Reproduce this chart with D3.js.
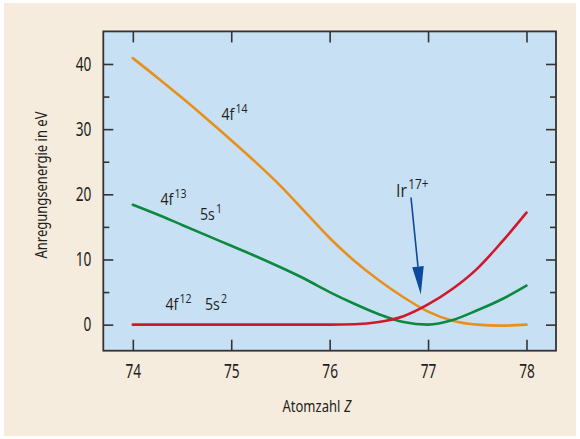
<!DOCTYPE html>
<html>
<head>
<meta charset="utf-8">
<script src="https://cdn.jsdelivr.net/npm/d3@7"></script>
<style>
  html, body { margin: 0; padding: 0; background: #ffffff; }
  svg { display: block; }
  text { font-family: "Noto Sans", "Open Sans", sans-serif; fill: #231f20; }
</style>
</head>
<body>
<svg id="chart"></svg>
<script>
// Datos
const Z_VALUES = [74, 74.25, 74.5, 74.75, 75, 75.25, 75.5, 75.75, 76, 76.25, 76.5, 76.75, 77, 77.25, 77.5, 77.75, 78];

const E_4F14 = [40.9, 37.9, 34.8, 31.6, 28.3, 24.9, 21.3, 17.3, 13.3, 9.8, 6.8, 4.2, 2.0, 0.6, 0.0, -0.15, 0.0];
const E_4F13_5S1 = [18.4, 16.9, 15.3, 13.7, 12.1, 10.5, 8.8, 7.0, 5.0, 3.2, 1.6, 0.4, 0.0, 0.7, 2.2, 3.9, 6.0];
const E_4F12_5S2 = [0, 0, 0, 0, 0, 0, 0, 0, 0, 0.05, 0.4, 1.3, 3.1, 5.5, 8.6, 12.7, 17.2];

const X_TICKS = [74, 75, 76, 77, 78];
const Y_TICKS = [0, 10, 20, 30, 40];
const Y_MINOR = [5, 15, 25, 35];

const X_DOMAIN = [73.7, 78.3];
const Y_DOMAIN = [-4, 45];

// Configuracion
const WIDTH = 580;
const HEIGHT = 439;
const PLOT = { left: 103.3, right: 556, top: 31.4, bottom: 350.7 };

const svg = d3.select('svg#chart')
              .attr('width', WIDTH)
              .attr('height', HEIGHT);

// comprime el texto a lo ancho (la fuente original es condensada)
const condensar = (sel, k) => {
    sel.each(function () {
        const largo = this.getComputedTextLength();
        d3.select(this)
            .attr('textLength', largo * k)
            .attr('lengthAdjust', 'spacingAndGlyphs');
    });
};

// texto condensado con transform (devuelve el ancho final)
const textoAngosto = (px, py, contenido, size, k, estilo = {}) => {
    const g = svg.append('g')
        .attr('transform', `translate(${px}, ${py}) scale(${k}, 1)`);
    const t = g.append('text')
        .attr('x', 0).attr('y', 0)
        .style('font-size', `${size}px`)
        .text(contenido);
    Object.entries(estilo).forEach(([key, val]) => t.style(key, val));
    return t.node().getComputedTextLength() * k;
};

// fondo beige
svg.append('rect')
    .attr('x', 4).attr('y', 3)
    .attr('width', WIDTH - 8).attr('height', HEIGHT - 6)
    .attr('fill', '#f6ecde');

const x = d3.scaleLinear().domain(X_DOMAIN).range([PLOT.left, PLOT.right]);
const y = d3.scaleLinear().domain(Y_DOMAIN).range([PLOT.bottom, PLOT.top]);

// area del grafico
svg.append('rect')
    .attr('x', PLOT.left).attr('y', PLOT.top)
    .attr('width', PLOT.right - PLOT.left)
    .attr('height', PLOT.bottom - PLOT.top)
    .attr('fill', '#c8e0f3');

// Curvas
const series = [
    { name: '4f14', values: E_4F14, color: '#e8901c' },
    { name: '4f13 5s1', values: E_4F13_5S1, color: '#0b8a3e' },
    { name: '4f12 5s2', values: E_4F12_5S2, color: '#d1182a' }
];

const linea = d3.line()
                .x((d, i) => x(Z_VALUES[i]))
                .y(d => y(d))
                .curve(d3.curveMonotoneX);

svg.append('g')
    .selectAll('path.curva')
    .data(series)
    .join('path')
        .attr('class', 'curva')
        .attr('d', d => linea(d.values))
        .attr('fill', 'none')
        .attr('stroke', d => d.color)
        .attr('stroke-width', 2.6)
        .attr('stroke-linecap', 'round');

// Ejes (ticks hacia adentro)
const axisColor = '#333333';

const ejeAbajo = svg.append('g')
    .attr('transform', `translate(0, ${PLOT.bottom})`)
    .call(d3.axisBottom(x).tickValues(X_TICKS).tickSize(-11).tickPadding(14).tickFormat(d3.format('d')));

const ejeArriba = svg.append('g')
    .attr('transform', `translate(0, ${PLOT.top})`)
    .call(d3.axisTop(x).tickValues(X_TICKS).tickSize(-11).tickFormat(''));

const ejeIzq = svg.append('g')
    .attr('transform', `translate(${PLOT.left}, 0)`)
    .call(d3.axisLeft(y).tickValues(Y_TICKS).tickSize(-10).tickPadding(12));

const ejeIzqMinor = svg.append('g')
    .attr('transform', `translate(${PLOT.left}, 0)`)
    .call(d3.axisLeft(y).tickValues(Y_MINOR).tickSize(-6).tickFormat(''));

const ejeDer = svg.append('g')
    .attr('transform', `translate(${PLOT.right}, 0)`)
    .call(d3.axisRight(y).tickValues(Y_TICKS).tickSize(-10).tickFormat(''));

const ejeDerMinor = svg.append('g')
    .attr('transform', `translate(${PLOT.right}, 0)`)
    .call(d3.axisRight(y).tickValues(Y_MINOR).tickSize(-6).tickFormat(''));

[ejeAbajo, ejeArriba, ejeIzq, ejeIzqMinor, ejeDer, ejeDerMinor].forEach(g => {
    g.select('.domain').remove();
    g.selectAll('.tick line').attr('stroke', axisColor).attr('stroke-width', 1.6);
    g.selectAll('.tick text')
        .style('font-family', '"Noto Sans", "Open Sans", sans-serif')
        .style('font-size', '19px')
        .attr('fill', '#231f20')
        .call(condensar, 0.72);
});

// marco
svg.append('rect')
    .attr('x', PLOT.left).attr('y', PLOT.top)
    .attr('width', PLOT.right - PLOT.left)
    .attr('height', PLOT.bottom - PLOT.top)
    .attr('fill', 'none')
    .attr('stroke', axisColor)
    .attr('stroke-width', 1.8);

// Titulos de ejes
const anchoAtom = textoAngosto(282.5, 412, 'Atomzahl', 15.5, 0.84);
textoAngosto(282.5 + anchoAtom + 4, 412, 'Z', 15.5, 0.84, { 'font-style': 'italic' });

svg.append('text')
    .attr('transform', `translate(47, ${(PLOT.top + PLOT.bottom) / 2 - 6}) rotate(-90) scale(0.84, 1)`)
    .attr('text-anchor', 'middle')
    .style('font-size', '15.5px')
    .text('Anregungsenergie in eV');

// Etiquetas de configuracion
const etiquetas = [
    { base: '4f', sup: '14', x: 221.5, y: 119.5, size: 16.5 },
    { base: '4f', sup: '13', x: 160.5, y: 205, size: 16.5 },
    { base: '5s', sup: '1', x: 200, y: 219.5, size: 16.5 },
    { base: '4f', sup: '12', x: 165.5, y: 310, size: 16.5 },
    { base: '5s', sup: '2', x: 205, y: 310, size: 16.5 },
    { base: 'Ir', sup: '17+', x: 396, y: 196.5, size: 18.5 }
];

etiquetas.forEach(e => {
    const fuente = { 'font-family': '"Open Sans", "Noto Sans", sans-serif' };
    const ancho = textoAngosto(e.x, e.y, e.base, e.size, 0.86, fuente);
    textoAngosto(e.x + ancho + 1.2, e.y - e.size * 0.4, e.sup, e.size * 0.76, 0.84,
                 { ...fuente, 'font-weight': 500 });
});

// Flecha Ir17+
const flecha = { x1: 411, y1: 197.5, x2: 420.8, y2: 294.5 };
const ang = Math.atan2(flecha.y2 - flecha.y1, flecha.x2 - flecha.x1);
const largoPunta = 28, anchoPunta = 5.8;
const bx = flecha.x2 - largoPunta * Math.cos(ang);
const by = flecha.y2 - largoPunta * Math.sin(ang);
const nx = -Math.sin(ang), ny = Math.cos(ang);

svg.append('line')
    .attr('x1', flecha.x1).attr('y1', flecha.y1)
    .attr('x2', bx).attr('y2', by)
    .attr('stroke', '#0b4a9c')
    .attr('stroke-width', 1.6);

svg.append('path')
    .attr('d', `M${flecha.x2},${flecha.y2} L${bx + nx * anchoPunta},${by + ny * anchoPunta} L${bx - nx * anchoPunta},${by - ny * anchoPunta} Z`)
    .attr('fill', '#0b4a9c');
</script>
</body>
</html>
